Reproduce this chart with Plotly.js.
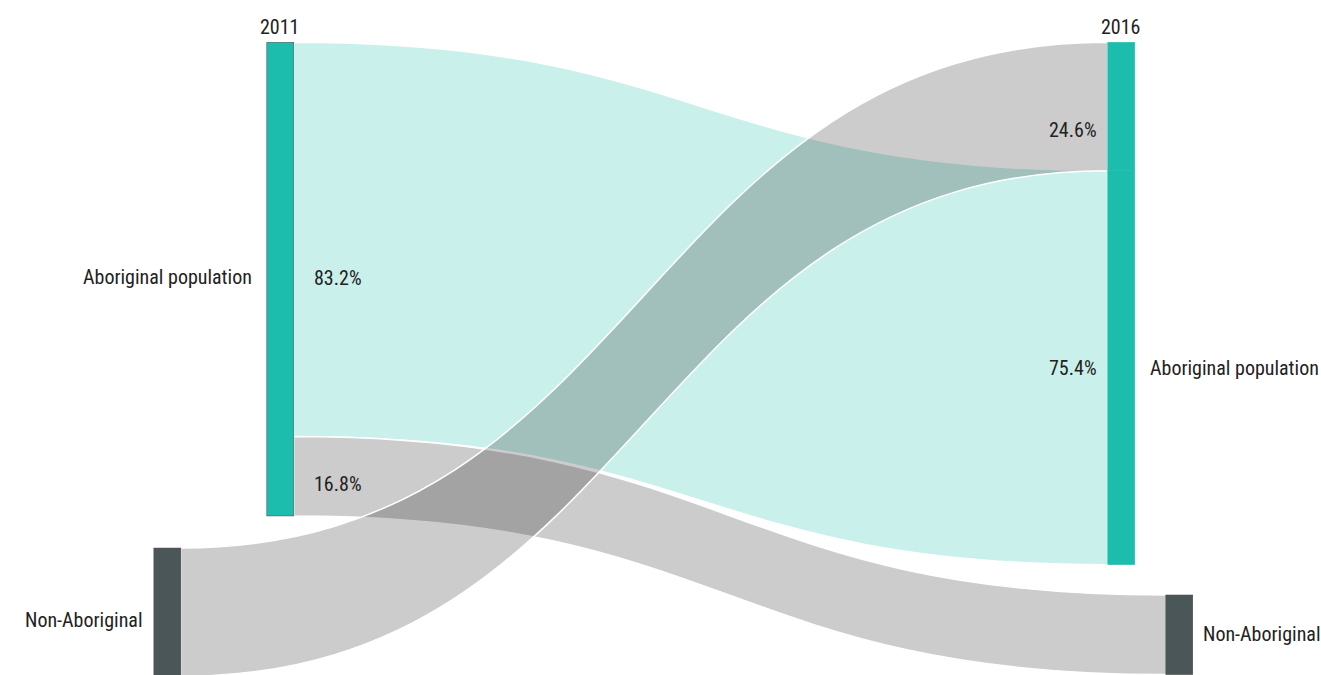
<!DOCTYPE html>
<html>
<head>
<meta charset="utf-8">
<script src="https://cdn.plot.ly/plotly-3.0.1.min.js"></script>
<style>
html,body{margin:0;padding:0;background:#fff;overflow:hidden}
#chart{width:1321px;height:675px}
</style>
</head>
<body>
<div id="chart"></div>
<script>
// ---------------- data ----------------
const years = ["2011", "2016"];
const nodeNames = ["Aboriginal population", "Non-Aboriginal", "Aboriginal population", "Aboriginal population", "Non-Aboriginal"];
const nodeYears = ["2011", "2011", "2016", "2016", "2016"];
const linkSources = [0, 0, 1];
const linkTargets = [3, 4, 2];
const linkValues = [83.2, 16.8, 27.1];
const shareLabels = ["83.2%", "16.8%", "24.6%", "75.4%"];

// ---------------- styling / positions ----------------
const W = 1321, H = 675;
const M = {l: 0, r: 0, t: 42, b: 31};
const TEAL = "#1cbdad", DARK = "#4b5658";
const nodeColors = [TEAL, DARK, TEAL, TEAL, DARK];
const seamlessNodes = [2, 3]; // the two stacked parts of the 2016 Aboriginal node
const linkColors = ["rgba(28,189,173,0.23)", "rgba(0,0,0,0.2)", "rgba(0,0,0,0.2)"];
const nodeX = [0.2122, 0.1267, 0.8488, 0.8488, 0.8927];
const nodeY = [0.3939, 0.9472, 0.1071, 0.5409, 0.9847];
const FONT = "'Liberation Sans Narrow', 'Arial Narrow', 'Roboto Condensed', 'Nimbus Sans Narrow', 'Liberation Sans', sans-serif";
const FSIZE = 20;

const plotH = H - M.t - M.b;
const px2x = p => p / W;
const px2y = p => 1 - (p - M.t) / plotH;

// label placements in pixels: [x, y, xanchor]
const yearPos = [[280, 27, "center"], [1121, 27, "center"]];
const nodeLabelPos = [[254, 277, "right"], [145, 620, "right"], null, [1148, 368, "left"], [1201, 634, "left"]];
const sharePos = [[312, 278, "left"], [312, 484, "left"], [1099, 130, "right"], [1099, 368, "right"]];

const annotations = [];
const txt = (text, p) => ({
  text: text, xref: "paper", yref: "paper",
  x: px2x(p[0]), y: px2y(p[1]), xanchor: p[2], yanchor: "middle",
  showarrow: false, font: {family: FONT, size: FSIZE, color: "#222"}
});
years.forEach((t, i) => annotations.push(txt(t, yearPos[i])));
nodeNames.forEach((t, i) => { if (nodeLabelPos[i]) annotations.push(txt(t, nodeLabelPos[i])); });
shareLabels.forEach((t, i) => annotations.push(txt(t, sharePos[i])));

const trace = {
  type: "sankey",
  arrangement: "fixed",
  domain: {x: [0, 1], y: [0, 1]},
  node: {
    label: nodeNames.map(() => ""),
    customdata: nodeNames.map((n, i) => n + " (" + nodeYears[i] + ")"),
    hovertemplate: "%{customdata}<extra></extra>",
    color: nodeColors,
    x: nodeX,
    y: nodeY,
    thickness: 27,
    pad: 0,
    line: {color: "#444", width: 0.5}
  },
  link: {
    source: linkSources,
    target: linkTargets,
    value: linkValues,
    color: linkColors,
    line: {color: "#ffffff", width: 1.5}
  }
};

const layout = {
  width: W, height: H,
  margin: M,
  paper_bgcolor: "#fff",
  font: {family: FONT, size: FSIZE, color: "#222"},
  annotations: annotations,
  showlegend: false
};

Plotly.newPlot("chart", [trace], layout, {displayModeBar: false, responsive: false}).then(gd => {
  // hide the seam between the two stacked parts of the 2016 Aboriginal node
  gd.querySelectorAll(".sankey-node .node-rect").forEach(el => {
    const d = el.__data__;
    if (d && seamlessNodes.indexOf(d.index) >= 0) {
      el.style.stroke = TEAL;
    }
  });
});
</script>
</body>
</html>
